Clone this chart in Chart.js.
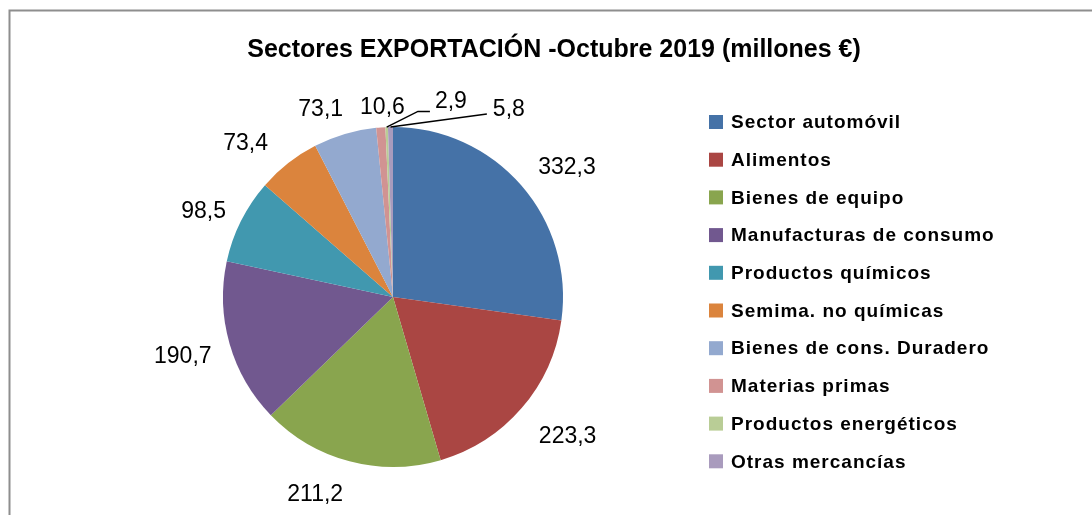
<!DOCTYPE html>
<html lang="es">
<head>
<meta charset="utf-8">
<title>Sectores EXPORTACIÓN - Octubre 2019</title>
<script src="https://cdn.jsdelivr.net/npm/chart.js@4.4.1/dist/chart.umd.min.js"></script>
<style>
  html, body { margin: 0; padding: 0; background: #fff; }
  #wrap { position: relative; width: 1092px; height: 515px; }
</style>
</head>
<body>
<div id="wrap"><canvas id="pieChart" width="1092" height="515"></canvas></div>
<script>
// ---------------------------------------------------------------------------
// Datos (millones de euros)
// ---------------------------------------------------------------------------
const sectores = [
  'Sector automóvil',
  'Alimentos',
  'Bienes de equipo',
  'Manufacturas de consumo',
  'Productos químicos',
  'Semima. no químicas',
  'Bienes de cons. Duradero',
  'Materias primas',
  'Productos energéticos',
  'Otras mercancías'
];
const valores = [332.3, 223.3, 211.2, 190.7, 98.5, 73.4, 73.1, 10.6, 2.9, 5.8];

const colores = ['#4572A7', '#AA4643', '#89A54E', '#71588F', '#4198AF',
                 '#DB843D', '#93A9CF', '#D19392', '#B9CD96', '#A99BBD'];

const TITULO = 'Sectores EXPORTACIÓN -Octubre 2019 (millones €)';
const FONT = '"Liberation Sans", Arial, sans-serif';

// pequeños ajustes de las etiquetas (como las deja Excel), en px
const ajusteEtiquetas = [[6, 5], [6, 6], [-21, 0], [4, 4], [4, 6], [-14, 7], [-11, 8], [5, 14], [0, 0], [0, 0]];

// etiquetas con línea guía: ángulo (grados) y distancia al centro del texto,
// más el final de la línea respecto al texto (codo horizontal si largo > 0)
const guias = {
  8: { ang: -77.9, dist: 200, fin: [-5, 10], codo: 12 },
  9: { ang: -61.9, dist: 212, fin: [-6, 4], codo: 0 }
};

const fmt = v => v.toFixed(1).replace('.', ',');

// ---------------------------------------------------------------------------
// Plugins: marco, título, etiquetas y leyenda estilo Excel
// ---------------------------------------------------------------------------
const marcoPlugin = {
  id: 'marco',
  beforeDraw(chart) {
    const ctx = chart.ctx;
    ctx.save();
    ctx.fillStyle = '#fff';
    ctx.fillRect(0, 0, chart.width, chart.height);
    ctx.strokeStyle = '#8e8e8e';
    ctx.lineWidth = 2;
    ctx.beginPath();
    ctx.moveTo(9.5, chart.height);
    ctx.lineTo(9.5, 10.5);
    ctx.lineTo(chart.width, 10.5);
    ctx.stroke();

    ctx.fillStyle = '#000';
    ctx.font = 'bold 25px ' + FONT;
    ctx.textAlign = 'center';
    ctx.textBaseline = 'middle';
    ctx.fillText(TITULO, 554, 50);
    ctx.restore();
  }
};

const etiquetasPlugin = {
  id: 'etiquetas',
  afterDatasetsDraw(chart) {
    const ctx = chart.ctx;
    const meta = chart.getDatasetMeta(0);
    ctx.save();
    ctx.font = '23px ' + FONT;
    ctx.fillStyle = '#000';
    ctx.textBaseline = 'middle';
    meta.data.forEach((arc, i) => {
      const p = arc.getProps(['x', 'y', 'startAngle', 'endAngle', 'outerRadius'], true);
      const mid = (p.startAngle + p.endAngle) / 2;
      const txt = fmt(valores[i]);
      const w = ctx.measureText(txt).width;
      const g = guias[i];
      if (g) {
        const a = g.ang * Math.PI / 180;
        const tx = p.x + Math.cos(a) * g.dist;
        const ty = p.y + Math.sin(a) * g.dist;
        const ex = p.x + Math.cos(mid) * p.outerRadius;
        const ey = p.y + Math.sin(mid) * p.outerRadius;
        const fx = tx + g.fin[0], fy = ty + g.fin[1];
        ctx.strokeStyle = '#000';
        ctx.lineWidth = 1.5;
        ctx.beginPath();
        ctx.moveTo(ex, ey);
        ctx.lineTo(fx - g.codo, fy);
        ctx.lineTo(fx, fy);
        ctx.stroke();
        ctx.textAlign = 'left';
        ctx.fillText(txt, tx, ty);
        return;
      }
      const gap = 24;
      const c = Math.cos(mid), s = Math.sin(mid);
      const x = p.x + c * (p.outerRadius + gap) + c * w / 2 + ajusteEtiquetas[i][0];
      const y = p.y + s * (p.outerRadius + gap) + s * 10 + ajusteEtiquetas[i][1];
      ctx.textAlign = 'center';
      ctx.fillText(txt, x, y);
    });
    ctx.restore();
  }
};

const leyendaPlugin = {
  id: 'leyenda',
  afterDraw(chart) {
    const ctx = chart.ctx;
    const x0 = 709, y0 = 122, paso = 37.7;
    ctx.save();
    ctx.font = 'bold 19px ' + FONT;
    ctx.letterSpacing = '1px';
    ctx.textBaseline = 'middle';
    ctx.textAlign = 'left';
    chart.data.labels.forEach((lab, i) => {
      const y = y0 + i * paso;
      ctx.fillStyle = chart.data.datasets[0].backgroundColor[i];
      ctx.fillRect(x0, y - 7, 14, 14);
      ctx.fillStyle = '#000';
      ctx.fillText(lab, x0 + 22, y + 1);
    });
    ctx.restore();
  }
};

// ---------------------------------------------------------------------------
// Gráfico
// ---------------------------------------------------------------------------
new Chart(document.getElementById('pieChart'), {
  type: 'pie',
  data: {
    labels: sectores,
    datasets: [{
      data: valores,
      backgroundColor: colores,
      borderWidth: 0
    }]
  },
  options: {
    responsive: false,
    animation: false,
    layout: { padding: { left: 223, right: 529, top: 127, bottom: 48 } },
    plugins: {
      legend: { display: false },
      title: { display: false },
      tooltip: { enabled: false }
    }
  },
  plugins: [marcoPlugin, etiquetasPlugin, leyendaPlugin]
});
</script>
</body>
</html>
